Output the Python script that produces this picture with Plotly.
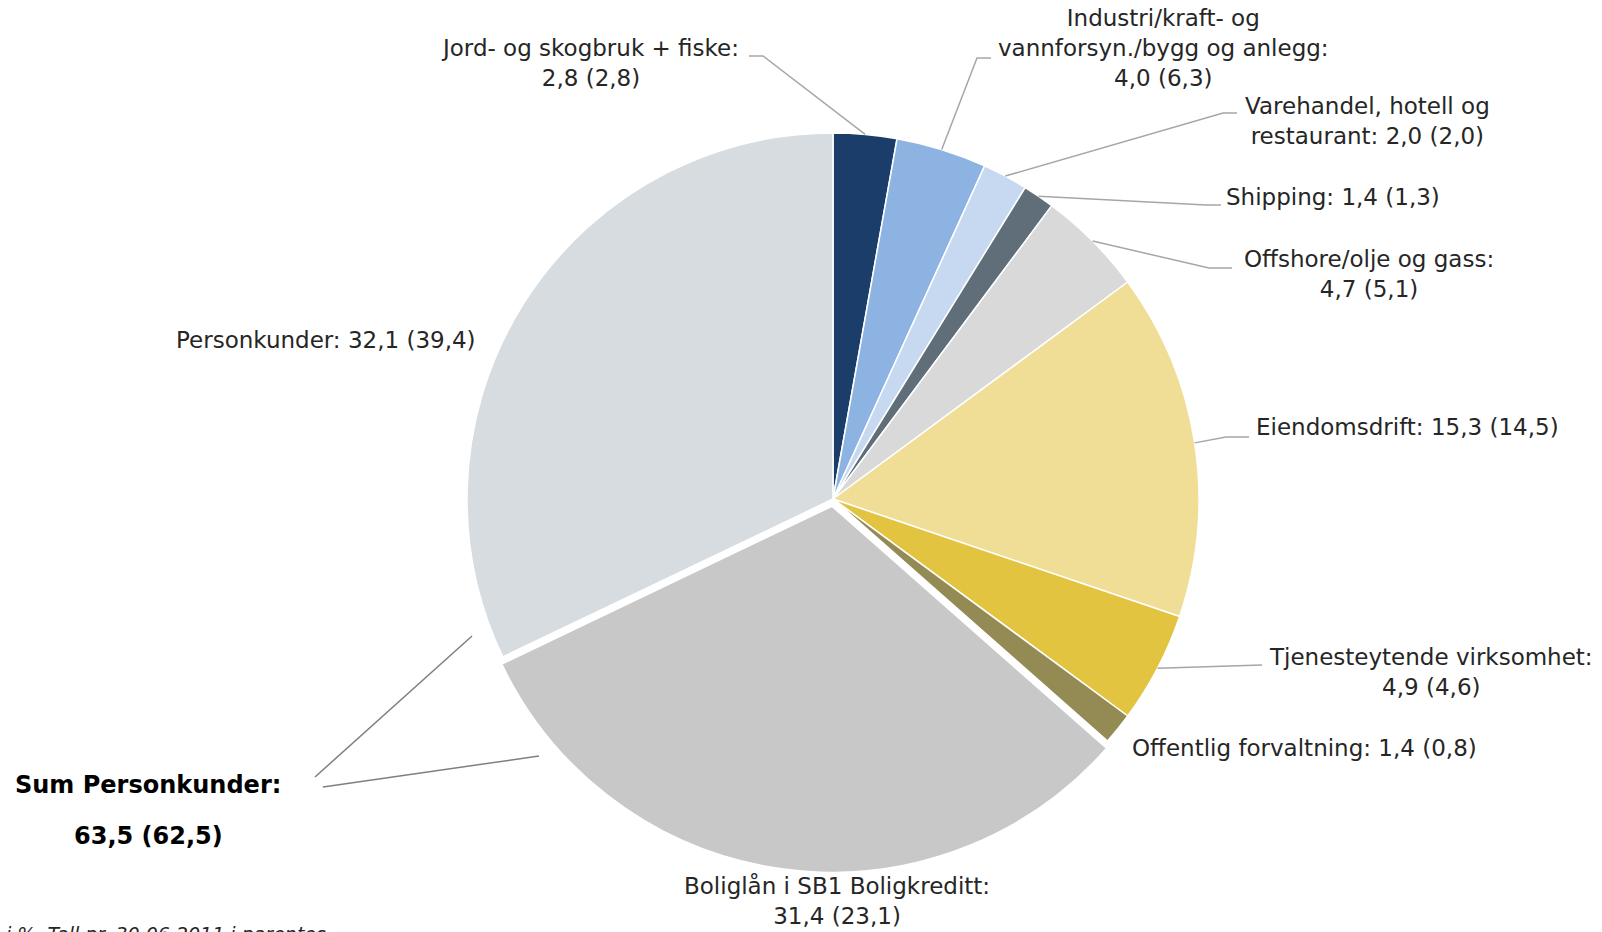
import math
import plotly.graph_objects as go

# ---------------- data ----------------
categories = [
    "Jord- og skogbruk + fiske",
    "Industri/kraft- og vannforsyn./bygg og anlegg",
    "Varehandel, hotell og restaurant",
    "Shipping",
    "Offshore/olje og gass",
    "Eiendomsdrift",
    "Tjenesteytende virksomhet",
    "Offentlig forvaltning",
    "Boliglån i SB1 Boligkreditt",
    "Personkunder",
]
values_2011 = [2.8, 4.0, 2.0, 1.4, 4.7, 15.3, 4.9, 1.4, 31.4, 32.1]
values_prev = [2.8, 6.3, 2.0, 1.3, 5.1, 14.5, 4.6, 0.8, 23.1, 39.4]
label_text = [
    "Jord- og skogbruk + fiske:<br>{v} ({p})",
    "Industri/kraft- og<br>vannforsyn./bygg og anlegg:<br>{v} ({p})",
    "Varehandel, hotell og<br>restaurant: {v} ({p})",
    "Shipping: {v} ({p})",
    "Offshore/olje og gass:<br>{v} ({p})",
    "Eiendomsdrift: {v} ({p})",
    "Tjenesteytende virksomhet:<br>{v} ({p})",
    "Offentlig forvaltning: {v} ({p})",
    "Boliglån i SB1 Boligkreditt:<br>{v} ({p})",
    "Personkunder: {v} ({p})",
]
sum_label = "Sum Personkunder:"
sum_value = 63.5
sum_prev = 62.5
footnote = "i %. Tall pr. 30.06.2011 i parentes"

colors = ["#1b3d6a", "#8db3e2", "#c6d9f1", "#5f6e79", "#d9d9d9",
          "#f0de96", "#e3c440", "#948b54", "#c8c8c8", "#d6dce0"]
pulls = [0, 0, 0, 0, 0, 0, 0, 0, 0.02, 0]


def fmt(x):
    return f"{x:.1f}".replace(".", ",")


W, H = 1602, 932


def px(x):
    return x / W


def py(y):
    return 1 - y / H


# pie geometry (pixels)
cx, cy, R = 833, 499, 366
half = R * (1 + max(pulls))

fig = go.Figure()
fig.add_trace(go.Pie(
    labels=categories,
    values=values_2011,
    sort=False,
    direction="clockwise",
    rotation=0,
    pull=pulls,
    marker=dict(colors=colors, line=dict(color="white", width=1.5)),
    textinfo="none",
    hoverinfo="label+value",
    showlegend=False,
    domain=dict(x=[px(cx - half), px(cx + half)], y=[py(cy + half), py(cy - half)]),
))

# mid angles from data
total = sum(values_2011)
mids = []
cum = 0
for v in values_2011:
    mids.append((cum + v / 2) / total * 2 * math.pi)
    cum += v


def edge(i):
    a = mids[i]
    return cx + R * math.sin(a), cy - R * math.cos(a)


# label positions (pixels): x, y, xanchor
label_pos = [
    (590, 63, "center"),
    (1163, 48, "center"),
    (1367, 121, "center"),
    (1333, 197, "center"),
    (1369, 274, "center"),
    (1407, 427, "center"),
    (1431, 672, "center"),
    (1304, 748, "center"),
    (837, 900, "center"),
    (326, 340, "center"),
]
# leader lines: list of intermediate points ending at the label side
leaders = {
    0: [(763, 56), (749, 56)],
    1: [(977, 58), (991, 58)],
    2: [(1223, 113), (1237, 113)],
    3: [(1206, 205), (1221, 205)],
    4: [(1209, 268), (1232, 268)],
    5: [(1226, 437), (1249, 437)],
    6: [(1262, 665)],
}

FONT = "DejaVu Sans, Tahoma, sans-serif"
TXT = "#262626"

annotations = []
for i, t in enumerate(label_text):
    x, y, xa = label_pos[i]
    annotations.append(dict(
        x=px(x), y=py(y), xref="paper", yref="paper",
        xanchor=xa, yanchor="middle", showarrow=False, align="center",
        text=t.format(v=fmt(values_2011[i]), p=fmt(values_prev[i])),
        font=dict(family=FONT, size=23, color=TXT),
    ))

annotations.append(dict(
    x=px(148), y=py(785), xref="paper", yref="paper", showarrow=False,
    xanchor="center", yanchor="middle",
    text=f"<b>{sum_label}</b>", font=dict(family=FONT, size=24, color="#000000"),
))
annotations.append(dict(
    x=px(148), y=py(836), xref="paper", yref="paper", showarrow=False,
    xanchor="center", yanchor="middle",
    text=f"<b>{fmt(sum_value)} ({fmt(sum_prev)})</b>", font=dict(family=FONT, size=24, color="#000000"),
))
annotations.append(dict(
    x=px(4), y=py(921), xref="paper", yref="paper", showarrow=False,
    xanchor="left", yanchor="top",
    text=f"<i>{footnote}</i>", font=dict(family=FONT, size=19, color=TXT),
))

shapes = []
for i, pts in leaders.items():
    ex, ey = edge(i)
    path_pts = [(ex, ey)] + pts
    d = "M " + " L ".join(f"{px(a)},{py(b)}" for a, b in path_pts)
    shapes.append(dict(type="path", xref="paper", yref="paper", path=d,
                       line=dict(color="#a6a6a6", width=1.5)))

# sum personkunder connector lines
shapes.append(dict(type="line", xref="paper", yref="paper",
                   x0=px(315), y0=py(777), x1=px(472), y1=py(636),
                   line=dict(color="#7f7f7f", width=1.5)))
shapes.append(dict(type="line", xref="paper", yref="paper",
                   x0=px(323), y0=py(787), x1=px(539), y1=py(756),
                   line=dict(color="#7f7f7f", width=1.5)))

fig.update_layout(
    width=W, height=H,
    margin=dict(l=0, r=0, t=0, b=0),
    paper_bgcolor="white", plot_bgcolor="white",
    annotations=annotations, shapes=shapes,
    font=dict(family=FONT),
)

fig.write_html(
    "out.html",
    config={"displayModeBar": False},
    post_script="document.body.style.margin='0';document.body.style.overflow='hidden';",
)
